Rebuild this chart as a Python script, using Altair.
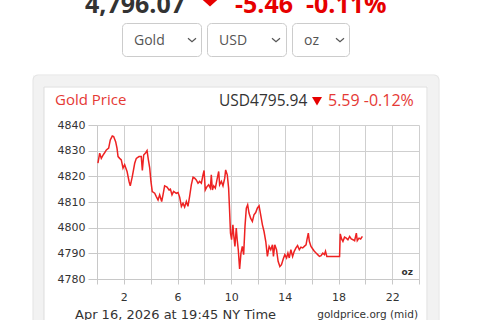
import altair as alt
import pandas as pd

# ---- data ----
hours = [0.07, 0.20, 0.32, 0.45, 0.57, 0.70, 0.87, 0.99, 1.14, 1.24, 1.39, 1.49, 1.57, 1.69, 1.81, 1.94,
         2.06, 2.24, 2.39, 2.48, 2.63, 2.81, 2.93, 3.13, 3.30, 3.38, 3.48, 3.63, 3.73, 3.83, 3.93,
         4.02, 4.12, 4.30, 4.42, 4.55, 4.67, 4.82, 4.92, 5.04, 5.22, 5.37, 5.47, 5.59, 5.71, 5.91,
         6.04, 6.16, 6.29, 6.41, 6.53, 6.66, 6.78, 6.91, 7.03, 7.16, 7.28, 7.40, 7.53, 7.65, 7.78,
         7.90, 7.98, 8.07, 8.20, 8.32, 8.45, 8.52, 8.60, 8.70, 8.82, 8.94, 9.07, 9.14, 9.27, 9.39,
         9.52, 9.59, 9.71, 9.81, 9.88, 9.95, 10.03, 10.13, 10.20, 10.28, 10.38, 10.45, 10.53, 10.63,
         10.73, 10.83, 10.93, 11.03, 11.13, 11.23, 11.33, 11.45, 11.58, 11.70, 11.83, 11.95, 12.08,
         12.20, 12.33, 12.45, 12.58, 12.70, 12.83, 12.95, 13.08, 13.15, 13.25, 13.38, 13.50, 13.63,
         13.75, 13.88, 14.00, 14.13, 14.23, 14.33, 14.45, 14.58, 14.70, 14.83, 14.95, 15.08, 15.20,
         15.33, 15.45, 15.58, 15.65, 15.75, 15.83, 15.95, 16.08, 16.20, 16.33, 16.45, 16.58, 16.70,
         16.83, 16.95, 17.03, 17.13, 18.08, 18.13, 18.23, 18.33, 18.45, 18.58, 18.70, 18.83, 18.95,
         19.08, 19.20, 19.33, 19.40, 19.53, 19.65, 19.78]
prices = [4825.1, 4829.0, 4827.0, 4828.3, 4829.2, 4830.3, 4831.0, 4834.2, 4835.7, 4835.5, 4833.5, 4831.0,
          4827.7, 4827.0, 4826.4, 4823.2, 4824.5, 4821.9, 4818.0, 4816.3, 4819.9, 4825.1, 4827.0,
          4827.7, 4827.7, 4822.3, 4828.3, 4829.2, 4830.0, 4826.4, 4823.2, 4818.0, 4814.1, 4813.4,
          4812.1, 4810.8, 4812.8, 4810.2, 4812.8, 4816.3, 4815.8, 4814.7, 4815.0, 4812.8, 4814.1,
          4813.4, 4813.7, 4811.9, 4808.3, 4809.5, 4808.0, 4810.2, 4808.3, 4812.4, 4816.7, 4819.7,
          4819.3, 4818.6, 4817.3, 4818.0, 4817.3, 4820.6, 4822.3, 4814.7, 4816.0, 4816.7, 4815.4,
          4820.6, 4814.7, 4816.3, 4815.4, 4818.6, 4821.9, 4816.7, 4818.0, 4816.3, 4819.3, 4822.5,
          4820.6, 4815.4, 4807.0, 4797.9, 4795.3, 4801.1, 4796.6, 4792.7, 4799.8, 4795.3, 4791.4,
          4783.9, 4790.1, 4792.7, 4789.5, 4800.5, 4807.6, 4808.9, 4805.7, 4803.7, 4802.4, 4805.0,
          4805.9, 4807.6, 4808.5, 4805.0, 4801.1, 4798.5, 4794.6, 4788.8, 4792.7, 4791.4, 4793.3,
          4788.8, 4793.3, 4791.4, 4786.9, 4784.9, 4785.6, 4787.8, 4789.5, 4788.2, 4790.1, 4788.2,
          4791.4, 4788.8, 4790.8, 4792.1, 4793.0, 4791.4, 4792.4, 4792.1, 4792.7, 4793.3, 4795.3,
          4797.9, 4794.6, 4792.7, 4791.7, 4790.8, 4790.1, 4789.5, 4788.8, 4789.1, 4790.1, 4789.5,
          4790.8, 4788.8, 4788.8, 4797.6, 4795.6, 4794.6, 4796.3, 4795.9, 4795.3, 4796.6, 4795.6,
          4795.3, 4794.9, 4797.9, 4794.9, 4795.9, 4795.6, 4796.6]
x_ticks = list(range(0, 25, 2))
y_ticks = [4780, 4790, 4800, 4810, 4820, 4830, 4840]

df = pd.DataFrame({"hour": hours, "price": prices})

# plot area origin on the page
OX, OY = 97, 125
PW, PH = 322, 154
one = pd.DataFrame({"k": [0]})


def txt(s, x, y, size, color, font="Open Sans", weight="normal", align="left", baseline="middle"):
    return alt.Chart(one).mark_text(
        text=s, font=font, fontSize=size, color=color, fontWeight=weight,
        align=align, baseline=baseline
    ).encode(x=alt.value(x - OX), y=alt.value(y - OY))


def box(x1, y1, x2, y2, stroke, sw=1, fill=None, r=0):
    kw = dict(stroke=stroke, strokeWidth=sw, cornerRadius=r)
    if fill is None:
        m = alt.Chart(one).mark_rect(filled=False, **kw)
    else:
        m = alt.Chart(one).mark_rect(fill=fill, **kw)
    return m.encode(x=alt.value(x1 - OX), x2=alt.value(x2 - OX),
                    y=alt.value(y1 - OY), y2=alt.value(y2 - OY))


def sym(path, x, y, size, color, filled=True):
    if filled:
        m = alt.Chart(one).mark_point(shape=path, size=size, filled=True, fill=color, strokeWidth=0, opacity=1)
    else:
        m = alt.Chart(one).mark_point(shape=path, size=size, filled=False, stroke=color, strokeWidth=1.2, opacity=1)
    return m.encode(x=alt.value(x - OX), y=alt.value(y - OY))


RED = "#e60000"
RED2 = "#e53935"
CHEV = "M-1,-0.45L0,0.45L1,-0.45"

line = alt.Chart(df).mark_line(color="#ee2222", strokeWidth=1.5).encode(
    x=alt.X("hour:Q", scale=alt.Scale(domain=[0, 24], nice=False),
            axis=alt.Axis(values=x_ticks, title=None, grid=True, gridColor="#cfcfcf",
                          domainColor="#c8c8c8", tickColor="#c8c8c8", tickSize=5,
                          labelExpr="datum.value % 4 == 2 ? datum.label : ''",
                          labelFont="DejaVu Sans", labelFontSize=11, labelColor="#333",
                          labelPadding=7, labelOverlap=False, labelFlush=False)),
    y=alt.Y("price:Q", scale=alt.Scale(domain=[4780, 4840], nice=False, zero=False),
            axis=alt.Axis(values=y_ticks, title=None, grid=True, gridColor="#cfcfcf",
                          domainColor="#c8c8c8", tickColor="#c8c8c8", tickSize=9,
                          format="d", labelFont="DejaVu Sans", labelFontSize=11,
                          labelColor="#333", labelPadding=3, labelOverlap=False)),
)

layers = [
    # page header
    txt("4,796.07", 85, 13, 25, "#333333", weight="bold", baseline="alphabetic"),
    sym("M-1,-0.45L1,-0.45L0,0.45Z", 210, 2, 400, RED),
    txt("-5.46", 235, 13, 25, RED, weight="bold", baseline="alphabetic"),
    txt("-0.11%", 306, 13, 25, RED, weight="bold", baseline="alphabetic"),
    # dropdowns
    box(122.5, 23.5, 201.5, 56.5, "#cccccc", 1, fill="#ffffff", r=4),
    box(207.5, 23.5, 286.5, 56.5, "#cccccc", 1, fill="#ffffff", r=4),
    box(292.5, 23.5, 349.5, 56.5, "#cccccc", 1, fill="#ffffff", r=4),
    txt("Gold", 134, 41, 14, "#555555"),
    txt("USD", 219, 41, 14, "#555555"),
    txt("oz", 304, 41, 14, "#555555"),
    sym(CHEV, 192, 40, 64, "#555555", filled=False),
    sym(CHEV, 276, 40, 64, "#555555", filled=False),
    sym(CHEV, 340, 40, 64, "#555555", filled=False),
    # panel frames
    box(38.5, 81, 433, 360, "#f2f2f2", 11),
    box(33, 75, 439, 360, "#e3e3e3", 1, r=5),
    box(44, 87, 427, 360, "#dddddd", 1),
    # chart header
    txt("Gold Price", 55, 100, 15, RED2),
    txt("USD4795.94", 219, 101, 15.5, "#333333"),
    sym("M-1,-0.8L1,-0.8L0,0.9Z", 317, 101, 100, RED),
    txt("5.59 -0.12%", 328, 101, 16, RED2),
    # footer and unit
    txt("oz", 413, 272, 9, "#333333", font="DejaVu Sans", weight="bold", align="right"),
    txt("Apr 16, 2026 at 19:45 NY Time", 75, 315, 13, "#333333", font="DejaVu Sans"),
    txt("goldprice.org (mid)", 418, 315, 10.5, "#333333", font="DejaVu Sans", align="right"),
    line,
]

chart = alt.layer(*layers).properties(
    width=PW, height=PH,
    autosize=alt.AutoSizeParams(type="none"),
    padding={"left": OX, "top": OY, "right": 480 - OX - PW, "bottom": 320 - OY - PH},
    background="#ffffff",
).configure_view(strokeWidth=0)

chart.save("out.html", embed_options={"renderer": "svg", "actions": False})
